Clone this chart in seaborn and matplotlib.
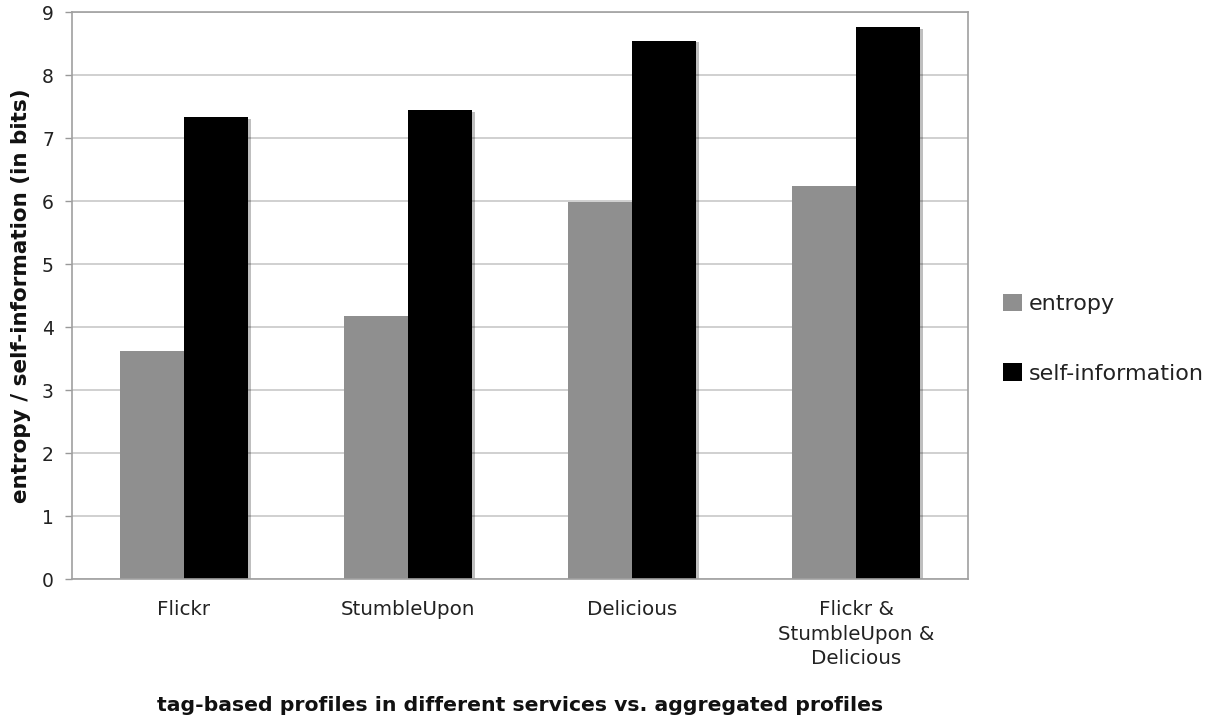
import numpy as np
import pandas as pd
import matplotlib
matplotlib.use("Agg")
import matplotlib.pyplot as plt
import matplotlib.patheffects as pe
import seaborn as sns

categories = ["Flickr", "StumbleUpon", "Delicious", "Flickr &\nStumbleUpon &\nDelicious"]
series_names = ["entropy", "self-information"]
entropy = [3.62, 4.17, 5.99, 6.24]
self_information = [7.33, 7.44, 8.54, 8.76]
y_ticks = [0, 1, 2, 3, 4, 5, 6, 7, 8, 9]

df = pd.DataFrame({
    "category": categories * 2,
    "series": [series_names[0]] * 4 + [series_names[1]] * 4,
    "value": entropy + self_information,
})

sns.set_theme(style="white")
plt.rcParams["font.family"] = ["DejaVu Sans"]

fig = plt.figure(figsize=(12.12, 7.19), dpi=100)
ax = fig.add_axes([0.0594, 0.1947, 0.7393, 0.7886])

palette = {"entropy": "#8f8f8f", "self-information": "#000000"}
sns.barplot(data=df, x="category", y="value", hue="series", order=categories,
            hue_order=series_names, palette=palette, width=0.57, gap=0,
            saturation=1, linewidth=0, ax=ax, legend=True)

handles, labels = ax.get_legend_handles_labels()
ax.get_legend().remove()

for p in ax.patches:
    p.set_path_effects([pe.SimplePatchShadow(offset=(2, -1), shadow_rgbFace="#000000", alpha=0.25), pe.Normal()])

ax.set_ylim(0, 9)
ax.set_xlim(-0.5, 3.5)
ax.set_yticks(y_ticks)
ax.set_yticklabels([str(t) for t in y_ticks], fontsize=13.5, color="#222222")
ax.yaxis.grid(True, color="#c8c8c8", linewidth=1.2)
ax.set_axisbelow(True)

ax.set_xticks(range(4))
ax.set_xticklabels(categories, fontsize=14.3, color="#222222", linespacing=1.38)
ax.set_xticks([-0.5, 0.5, 1.5, 2.5, 3.5], minor=True)
ax.tick_params(axis="x", which="major", length=0, pad=15)
ax.tick_params(axis="x", which="minor", length=5, color="#999999", width=1, direction="out")
ax.tick_params(axis="y", length=5, color="#999999", width=1, direction="out", left=True, pad=8)

for s in ax.spines.values():
    s.set_color("#a0a0a0")
    s.set_linewidth(1.2)

ax.set_ylabel("entropy / self-information (in bits)", fontsize=15.5, fontweight="bold",
              labelpad=8, color="#111111")
ax.set_xlabel("tag-based profiles in different services vs. aggregated profiles",
              fontsize=14.7, fontweight="bold", labelpad=20, color="#111111")

leg = fig.legend(handles, labels, loc="center left", bbox_to_anchor=(0.811, 0.529),
                 frameon=False, fontsize=16, handlelength=0.85, handleheight=0.85,
                 handletextpad=0.3, labelspacing=2.2)
for h in leg.legend_handles:
    h.set_path_effects([])
for t in leg.get_texts():
    t.set_color("#222222")

fig.savefig("out.png", dpi=100)
